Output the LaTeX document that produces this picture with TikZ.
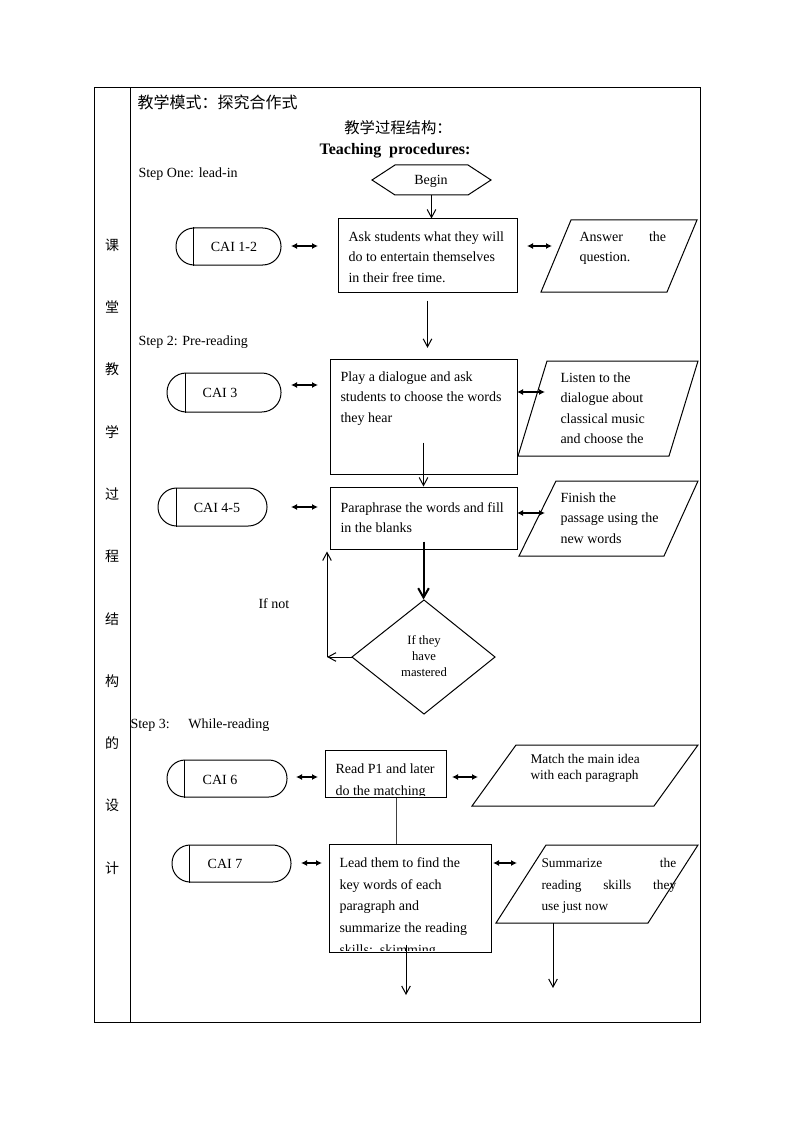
\documentclass[tikz,border=0pt]{standalone}
\usepackage{fontspec}
\setmainfont{Liberation Serif}
\newfontfamily\cjk{Noto Sans CJK SC}
\usetikzlibrary{arrows.meta,fit,calc}
\newcommand{\caibox}[5]{%
  \pgfmathsetmacro{\myrad}{(#5-#3)*0.37}%
  \node[box, rounded corners=\myrad pt, fit={(#2,#3)(#4,#5)}] (#1) {};
  \draw ([xshift=\myrad pt]#1.north west) -- ([xshift=\myrad pt]#1.south west);
}
\newcommand{\para}[7]{%
  \draw (#2,#4) -- (#3,#4) -- (#6,#7) -- (#5,#7) -- cycle;
}
\begin{document}
\begin{tikzpicture}[x=0.75pt,y=-0.75pt,line width=0.75pt,
  box/.style={draw, inner sep=0pt},
  txt/.style={inner sep=0pt, align=left, anchor=north west, font=\fontsize{10.5}{15.4}\selectfont},
  stxt/.style={inner sep=0pt, align=left, anchor=north west, font=\fontsize{10}{12}\selectfont},
  lbl/.style={inner sep=0pt, font=\fontsize{10.5}{12}\selectfont},
  cjkl/.style={inner sep=0pt, font=\cjk\fontsize{10.5}{12}\selectfont},
  varr/.style={-{Straight Barb[length=6pt,width=6.5pt]}},
  dbl/.style={{Latex[length=4.5pt,width=4.5pt]}-{Latex[length=4.5pt,width=4.5pt]}, line width=0.9pt},
  thickarr/.style={line width=1.5pt, -{Straight Barb[length=7pt,width=8pt]}}
]
\useasboundingbox (0,0) rectangle (794,1123);
% table
\node[box, fit={(94,88)(700,1022)}] (table) {};
\draw (130,0 |- table.north) -- (130,0 |- table.south);
% left column
\foreach \c [count=\i from 0] in {课,堂,教,学,过,程,结,构,的,设,计}{
  \node[cjkl] (lc\i) at (112,{245+62.3*\i}) {\c};
}
% titles
\node[cjkl, anchor=west, font=\cjk\fontsize{12}{14}\selectfont] (mode) at (137,102) {教学模式：探究合作式};
\node[cjkl, font=\cjk\fontsize{11.5}{14}\selectfont] (struct) at (398,128) {教学过程结构：};
\node[lbl, font=\bfseries\fontsize{12}{14}\selectfont] (tp) at (395,151) {Teaching\ \ procedures:};
\node[lbl, anchor=west] (s1) at (138,174) {Step One: lead-in};
\node[lbl, anchor=west] (s2) at (138,342) {Step 2: Pre-reading};
\node[lbl, anchor=west] (s3) at (130,725) {Step 3:\hspace{14pt}While-reading};
\node[lbl, anchor=west] (ifnot) at (258,604) {If not};
% Begin
\draw (372,180) -- (395,165) -- (468,165) -- (491,180) -- (468,195) -- (395,195) -- cycle;
\node[inner sep=0pt, fit={(372,165)(491,195)}] (begin) {};
\node[lbl] (begintxt) at (431,181) {Begin};
% main boxes
\node[box, fit={(338,219)(517,292)}] (b1) {};
\node[box, fit={(330,359)(517,474)}] (b2) {};
\node[box, fit={(330,487)(517,549)}] (b3) {};
\node[box, fit={(325,750)(446,797)}] (b4) {};
\node[box, fit={(329,844)(491,952)}] (b5) {};
\node[txt] (t1) at (348,231) {Ask students what they will\\do to entertain themselves\\in their free time.};
\node[txt] (t2) at (340,371) {Play a dialogue and ask\\students to choose the words\\they hear};
\node[txt] (t3) at (340,502) {Paraphrase the words and fill\\in the blanks};
\begin{scope}
\clip (325,750) rectangle (446,795.5);
\node[txt, font=\fontsize{10.5}{16.5}\selectfont] (t4) at (335,763) {Read P1 and later\\do the matching};
\end{scope}
\begin{scope}
\clip (329,844) rectangle (491,950.5);
\node[txt, font=\fontsize{10.5}{16.3}\selectfont] (t5) at (339,857) {Lead them to find the\\key words of each\\paragraph and\\summarize the reading\\skills:\ \ skimming};
\end{scope}
% CAI shapes
\caibox{c1}{176}{228}{281}{265}
\caibox{c2}{167}{373}{281}{412}
\caibox{c3}{158}{488}{267}{526}
\caibox{c4}{167}{760}{287}{797}
\caibox{c5}{172}{845}{291}{882}
\node[lbl] (c1t) at (234,247) {CAI\ 1-2};
\node[lbl] (c2t) at (220,393) {CAI\ 3};
\node[lbl] (c3t) at (217,508) {CAI 4-5};
\node[lbl] (c4t) at (220,780) {CAI\ 6};
\node[lbl] (c5t) at (225,864) {CAI 7};
% parallelograms
\para{p1}{571}{697}{220}{541}{667}{292}
\para{p2}{547}{698}{361}{518}{669}{456}
\para{p3}{556}{698}{481}{519}{664}{556}
\para{p4}{516}{698}{745}{472}{654}{806}
\para{p5}{546}{698}{845}{496}{648}{923}
\node[txt] (pt1) at (579,231) {\makebox[65pt][s]{Answer the}\\question.};
\node[txt] (pt2) at (560,372) {Listen to the\\dialogue about\\classical music\\and choose the};
\node[txt] (pt3) at (560,492) {Finish the\\passage using the\\new words};
\node[stxt] (pt4) at (530,754) {Match the main idea\\with each paragraph};
\node[stxt, font=\fontsize{10}{16.1}\selectfont] (pt5) at (541,858) {\makebox[101pt][s]{Summarize the}\\\makebox[101pt][s]{reading skills they}\\use just now};
% diamond
\draw (352,657) -- (424,600) -- (495,657) -- (424,714) -- cycle;
\node[inner sep=0pt, fit={(352,600)(495,714)}] (dia) {};
\node[inner sep=0pt, align=center, font=\fontsize{9.5}{12}\selectfont] (diat) at (424,656) {If they\\have\\mastered};
% vertical connectors
\draw[varr] (begin.south) -- (begin.south |- b1.north);
\draw[varr] ([yshift=-6pt]b1.south) -- ([yshift=8pt]b1.south |- b2.north);
\draw[varr] ([yshift=24pt]b2.south) -- (b2.south |- b3.north);
\draw[thickarr] ([yshift=6pt]b3.south) -- (dia.north);
\coordinate (loop) at (327,0 |- dia.west);
\draw[varr] (dia.west) -- (loop);
\draw[varr] (loop) -- ([yshift=-1.5pt]loop |- b3.south);
\draw[black!75] (396,0 |- b4.south) -- (396,0 |- b5.north);
\coordinate (end1) at (406,995);
\coordinate (end2) at (553,988);
\draw[varr] ([yshift=6pt]406,0 |- b5.south) -- (end1);
\draw[varr] (553,923) -- (end2);
% double arrows
\coordinate (d1a) at (291,246); \coordinate (d1b) at (318,246);
\coordinate (d2a) at (527,246); \coordinate (d2b) at (552,246);
\coordinate (d3a) at (291,385); \coordinate (d3b) at (318,385);
\coordinate (d4a) at (517,392); \coordinate (d4b) at (545,392);
\coordinate (d5a) at (291,507); \coordinate (d5b) at (318,507);
\coordinate (d6a) at (517,513); \coordinate (d6b) at (545,513);
\coordinate (d7a) at (296,777); \coordinate (d7b) at (318,777);
\coordinate (d8a) at (452,777); \coordinate (d8b) at (478,777);
\coordinate (d9a) at (301,863); \coordinate (d9b) at (322,863);
\coordinate (d10a) at (493,863); \coordinate (d10b) at (517,863);
\foreach \k in {1,...,10}{\draw[dbl] (d\k a) -- (d\k b);}
\end{tikzpicture}
\end{document}
